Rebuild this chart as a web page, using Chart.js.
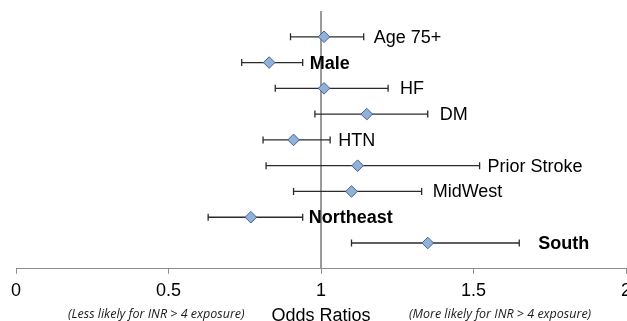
<!DOCTYPE html>
<html>
<head>
<meta charset="utf-8">
<script src="https://cdn.jsdelivr.net/npm/chart.js@4.4.1/dist/chart.umd.min.js"></script>
<style>
  html, body { margin: 0; padding: 0; background: #fff; overflow: hidden; }
  #forest { display: block; }
</style>
</head>
<body>
<canvas id="forest" width="640" height="327"></canvas>
<script>
// rows, top to bottom
var categories = ['Age 75+', 'Male', 'HF', 'DM', 'HTN', 'Prior Stroke', 'MidWest', 'Northeast', 'South'];
var oddsRatio  = [1.01, 0.83, 1.01, 1.15, 0.91, 1.12, 1.10, 0.77, 1.35];
var lowerCI    = [0.90, 0.74, 0.85, 0.98, 0.81, 0.82, 0.91, 0.63, 1.10];
var upperCI    = [1.14, 0.94, 1.22, 1.35, 1.03, 1.52, 1.33, 0.94, 1.65];
var xTicks     = [0, 0.5, 1, 1.5, 2];
var refLine    = 1;

var boldRows = ['Male', 'Northeast', 'South'];
var labelGap = [10, 7, 12, 12, 8, 8, 11, 6, 19];
var FONT = '"Liberation Sans", Arial, sans-serif';

var errorBars = {
    id: 'errorBars',
    // whiskers go on top of the reference line but under the diamonds
    afterDatasetDraw: function (chart, args) {
        if (args.index !== 0) return;
        var ctx = chart.ctx, xs = chart.scales.x, ys = chart.scales.y;
        ctx.save();
        ctx.strokeStyle = '#2b2b2b';
        ctx.lineWidth = 1.3;
        for (var i = 0; i < categories.length; i++) {
            var y = ys.getPixelForValue(i);
            var x1 = xs.getPixelForValue(lowerCI[i]);
            var x2 = xs.getPixelForValue(upperCI[i]);
            ctx.beginPath();
            ctx.moveTo(x1, y); ctx.lineTo(x2, y);
            ctx.moveTo(x1, y - 3.5); ctx.lineTo(x1, y + 3.5);
            ctx.moveTo(x2, y - 3.5); ctx.lineTo(x2, y + 3.5);
            ctx.stroke();
        }
        ctx.restore();
    },
    afterDatasetsDraw: function (chart) {
        var ctx = chart.ctx, xs = chart.scales.x, ys = chart.scales.y;
        ctx.save();
        ctx.fillStyle = '#000';
        ctx.textBaseline = 'middle';
        ctx.textAlign = 'left';
        for (var i = 0; i < categories.length; i++) {
            var bold = boldRows.indexOf(categories[i]) >= 0;
            ctx.font = (bold ? 'bold ' : '') + '18px ' + FONT;
            ctx.fillText(categories[i], xs.getPixelForValue(upperCI[i]) + labelGap[i], ys.getPixelForValue(i) + 1);
        }
        // side notes under the axis
        ctx.font = 'italic 12.5px "Open Sans", sans-serif';
        ctx.fillStyle = '#1a1a1a';
        ctx.textAlign = 'center';
        ctx.fillText('(Less likely for INR > 4 exposure)', xs.getPixelForValue(0.46), 314);
        ctx.fillText('(More likely for INR > 4 exposure)', xs.getPixelForValue(1.587), 314);
        ctx.restore();
    }
};

var ctx = document.getElementById('forest').getContext('2d');
var chart = new Chart(ctx, {
    data: {
        datasets: [{
            type: 'line',
            data: [{x: refLine, y: -1}, {x: refLine, y: categories.length}],
            borderColor: '#8c8c8c',
            borderWidth: 1,
            pointRadius: 0,
            order: 2
        }, {
            type: 'scatter',
            data: oddsRatio.map(function (v, i) { return {x: v, y: i}; }),
            pointStyle: 'rectRot',
            pointRadius: 5.8,
            backgroundColor: '#93b1d8',
            borderColor: '#3d6398',
            borderWidth: 1,
            order: 1
        }]
    },
    options: {
        responsive: false,
        animation: false,
        layout: { padding: { left: 16, right: 14, top: 11, bottom: 0 } },
        plugins: { legend: { display: false }, tooltip: { enabled: false } },
        scales: {
            x: {
                type: 'linear',
                min: 0,
                max: 2,
                afterBuildTicks: function (axis) {
                    axis.ticks = xTicks.map(function (v) { return {value: v}; });
                },
                grid: { drawOnChartArea: false, drawTicks: true, tickLength: 5, color: '#8c8c8c' },
                border: { display: true, color: '#8c8c8c', width: 1 },
                ticks: {
                    padding: 6,
                    color: '#000',
                    maxRotation: 0,
                    callback: function (v) { return String(v); },
                    font: { family: FONT, size: 18 }
                },
                title: {
                    display: true,
                    text: 'Odds Ratios',
                    color: '#000',
                    padding: { top: -2, bottom: 0 },
                    font: { family: FONT, size: 18 }
                }
            },
            y: {
                type: 'linear',
                min: -1,
                max: categories.length,
                reverse: true,
                display: false
            }
        }
    },
    plugins: [errorBars]
});
</script>
</body>
</html>
